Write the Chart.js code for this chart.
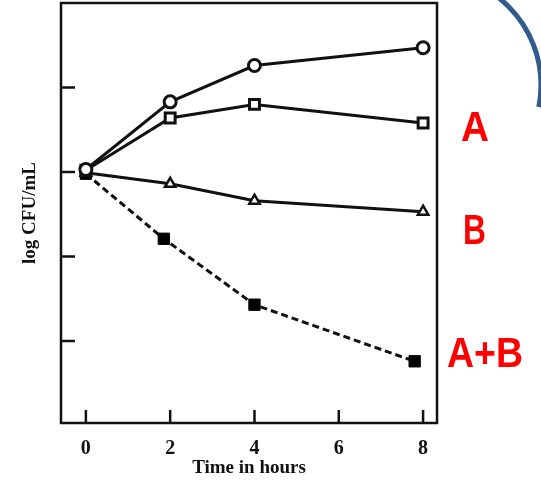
<!DOCTYPE html>
<html>
  <head>
    <script src="https://cdn.jsdelivr.net/npm/chart.js@4/dist/chart.umd.min.js"></script>
    <style>
      html, body { margin: 0; padding: 0; background: #fff; }
      #wrap { width: 541px; height: 489px; }
    </style>
  </head>

  <body>
    <div id="wrap">
      <canvas id="canvas"></canvas>
    </div>
    <script>
      // values (log CFU/mL against time)
      const hours = [0, 2, 4, 8];
      const hoursAB = [0, 1.85, 4, 7.8];
      const circleSeries = [7.03, 7.83, 8.26, 8.47];
      const squareSeries = [7.02, 7.64, 7.8, 7.58];
      const triangleSeries = [6.99, 6.86, 6.66, 6.53];
      const comboSeries = [6.98, 6.21, 5.43, 4.76];
      const xTicks = [0, 2, 4, 6, 8];
      const yTicks = [5, 6, 7, 8];
      const sideLabels = ['A', 'B', 'A+B'];

      const pts = (xs, ys) => xs.map((x, i) => ({ x: x, y: ys[i] }));

      // frame, inward tick marks, red labels and the blue slide arc
      const decor = {
        id: 'decor',
        afterDatasetsDraw(chart) {
          const ctx = chart.ctx;
          const a = chart.chartArea;
          const xs = chart.scales.x;
          const ys = chart.scales.y;
          ctx.save();
          ctx.strokeStyle = '#111';
          ctx.lineWidth = 2.5;
          ctx.strokeRect(a.left, a.top, a.right - a.left, a.bottom - a.top);
          ctx.beginPath();
          xTicks.forEach((v) => {
            const px = xs.getPixelForValue(v);
            ctx.moveTo(px, a.bottom);
            ctx.lineTo(px, a.bottom - 13);
          });
          yTicks.forEach((v) => {
            const py = ys.getPixelForValue(v);
            ctx.moveTo(a.left, py);
            ctx.lineTo(a.left + 14, py);
          });
          ctx.stroke();

          ctx.fillStyle = '#ff0000';
          ctx.font = 'bold 42px "Liberation Sans", Arial, sans-serif';
          ctx.textBaseline = 'alphabetic';
          ctx.fillText(sideLabels[0], 461, 141, 28);
          ctx.fillText(sideLabels[1], 463, 244, 23);
          ctx.fillText(sideLabels[2], 447, 367, 76);

          ctx.strokeStyle = '#2f5b8e';
          ctx.lineWidth = 5;
          ctx.beginPath();
          ctx.arc(430, 85, 111, -Math.PI / 2, 0.2);
          ctx.stroke();
          ctx.restore();
        },
      };

      new Chart(document.getElementById('canvas').getContext('2d'), {
        type: 'scatter',
        data: {
          datasets: [
            {
              data: pts(hours, circleSeries),
              showLine: true,
              borderColor: '#111',
              borderWidth: 3,
              pointStyle: 'circle',
              pointRadius: 6,
              pointBorderWidth: 3,
              pointBackgroundColor: '#fff',
              pointBorderColor: '#111',
            },
            {
              data: pts(hours, squareSeries),
              showLine: true,
              borderColor: '#111',
              borderWidth: 3,
              pointStyle: 'rect',
              pointRadius: 7,
              pointBorderWidth: 3,
              pointBackgroundColor: '#fff',
              pointBorderColor: '#111',
            },
            {
              data: pts(hours, triangleSeries),
              showLine: true,
              borderColor: '#111',
              borderWidth: 3,
              pointStyle: 'triangle',
              pointRadius: 6,
              pointBorderWidth: 2.5,
              pointBackgroundColor: '#fff',
              pointBorderColor: '#111',
            },
            {
              data: pts(hoursAB, comboSeries),
              showLine: true,
              borderColor: '#111',
              borderWidth: 3,
              borderDash: [7, 4],
              pointStyle: 'rect',
              pointRadius: 8,
              pointBorderWidth: 1,
              pointBackgroundColor: '#000',
              pointBorderColor: '#000',
            },
          ],
        },
        options: {
          responsive: true,
          maintainAspectRatio: false,
          animation: false,
          layout: { autoPadding: false, padding: { top: 3, right: 104, left: 0, bottom: 0 } },
          plugins: {
            legend: { display: false },
            tooltip: { enabled: false },
          },
          scales: {
            x: {
              type: 'linear',
              min: -0.59,
              max: 8.33,
              afterBuildTicks: (s) => {
                s.ticks = xTicks.map((v) => ({ value: v }));
              },
              afterFit: (s) => {
                s.height = 66;
              },
              grid: { display: false },
              border: { display: false },
              ticks: {
                color: '#111',
                padding: 6,
                font: { family: '"Liberation Serif", "Times New Roman", serif', size: 20, weight: 'bold' },
              },
              title: {
                display: true,
                text: 'Time in hours',
                color: '#111',
                padding: { top: 0, bottom: 10 },
                font: { family: '"Liberation Serif", "Times New Roman", serif', size: 19, weight: 'bold' },
              },
            },
            y: {
              type: 'linear',
              min: 4.03,
              max: 9,
              afterFit: (s) => {
                s.width = 61;
              },
              grid: { display: false },
              border: { display: false },
              ticks: { display: false },
              title: {
                display: true,
                text: 'log CFU/mL',
                color: '#111',
                padding: { top: 19, bottom: 0 },
                font: { family: '"Liberation Serif", "Times New Roman", serif', size: 19, weight: 'bold' },
              },
            },
          },
        },
        plugins: [decor],
      });
    </script>
  </body>
</html>
